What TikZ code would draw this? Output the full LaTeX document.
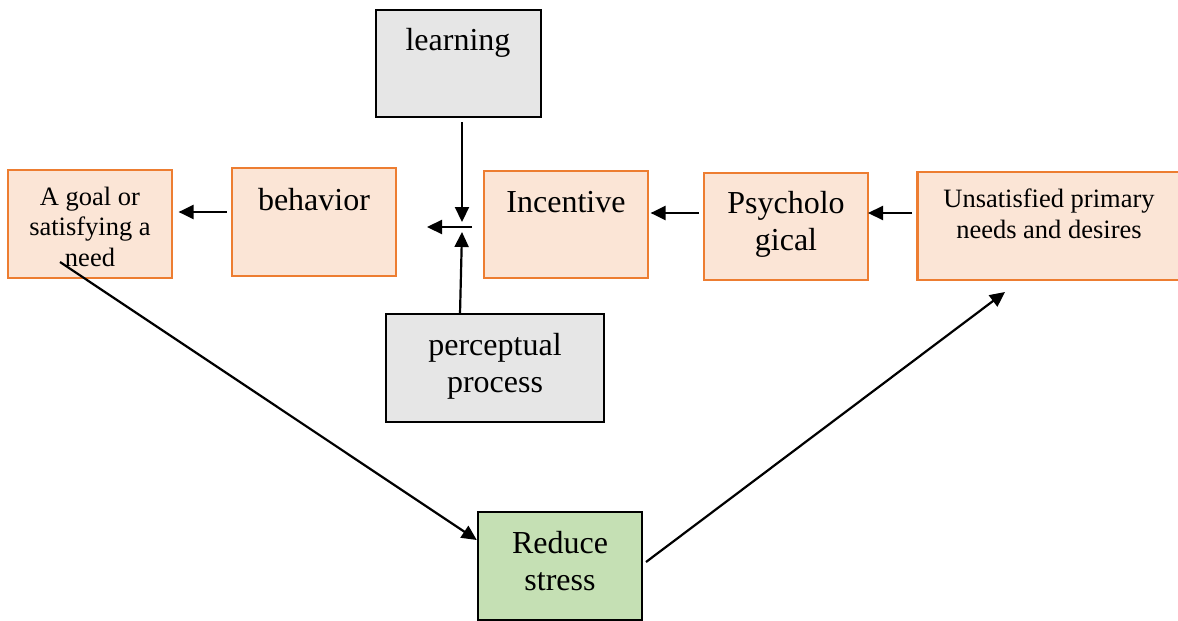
\documentclass[tikz,border=0pt]{standalone}
\usepackage{fontspec}
\setmainfont{Liberation Serif}
\usetikzlibrary{arrows.meta}
\definecolor{oborder}{HTML}{ED7D31}
\definecolor{ofill}{HTML}{FBE5D6}
\definecolor{gfill}{HTML}{E6E6E6}
\definecolor{grfill}{HTML}{C5E0B4}
\tikzset{
  obox/.style={draw=oborder, fill=ofill, line width=2.8pt, inner sep=0pt},
  gbox/.style={draw=black, fill=gfill, line width=2.4pt, inner sep=0pt},
  grbox/.style={draw=black, fill=grfill, line width=2.4pt, inner sep=0pt},
  big/.style={anchor=base, align=center, inner sep=0pt, font=\fontsize{32}{37}\selectfont},
  small/.style={anchor=base, align=center, inner sep=0pt, font=\fontsize{26.5}{30.5}\selectfont},
  arr/.style={line width=2.2pt, -{Triangle[length=15pt,width=14pt]}}
}
\begin{document}
\begin{tikzpicture}[x=1pt,y=-1pt]
\useasboundingbox (0,0) rectangle (1178,621);
% boxes
\node[gbox, minimum width=165, minimum height=107] (learn) at (458.5,63.5) {};
\node[gbox, minimum width=218, minimum height=108] (perc) at (495,368) {};
\node[obox, minimum width=164, minimum height=108] (goal) at (90,224) {};
\node[obox, minimum width=164, minimum height=108] (beh) at (314,222) {};
\node[obox, minimum width=164, minimum height=107] (inc) at (566,224.5) {};
\node[obox, minimum width=164, minimum height=107] (psy) at (786,226.5) {};
\node[obox, minimum width=264, minimum height=108, anchor=west] (uns) at (916,226) {};
\node[grbox, minimum width=164, minimum height=108] (red) at (560,566) {};
% texts
\node[big] (tlearn) at (458,50) {learning};
\node[big] (tperc) at (495,392) {perceptual\\process};
\node[small] (tgoal) at (90,266) {A goal or\\satisfying a\\need};
\node[big] (tbeh) at (314,210) {behavior};
\node[big] (tinc) at (566,212) {Incentive};
\node[big] (tpsy) at (786,250) {Psycholo\\gical};
\node[small] (tuns) at (1049,238) {Unsatisfied primary\\needs and desires};
\node[big] (tred) at (560,590) {Reduce\\stress};
% junction
\coordinate (jt) at (462,222);
\coordinate (jb) at (462,232);
\coordinate (jr) at (472,227);
\coordinate (jl) at (427,227);
% arrows
\draw[arr] (beh.west) ++(-4,-10) coordinate (b0) -- ++(-48,0) coordinate (b1);
\draw[arr] (jr) -- (jl);
\draw[arr] (462,122) coordinate (l0) -- (jt);
\draw[arr] (460,314) coordinate (p0) -- (jb);
\draw[arr] (psy.west) ++(-4,-13.5) coordinate (s0) -- ++(-48,0) coordinate (s1);
\draw[arr] (uns.west) ++(-4,-13) coordinate (u0) -- ++(-44,0) coordinate (u1);
\draw[arr] (60,262) coordinate (g0) -- (red.west |- 0,540);
\draw[arr] (646,562) coordinate (r0) -- (1005,292) coordinate (r1);
\end{tikzpicture}
\end{document}
